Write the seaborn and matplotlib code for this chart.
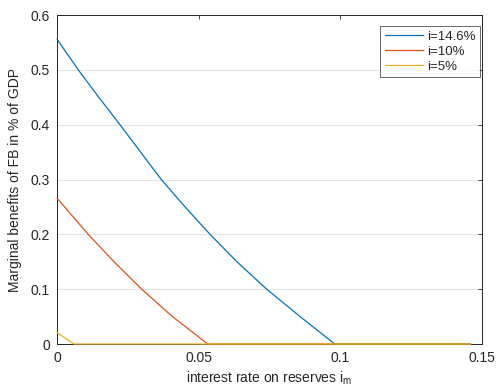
import matplotlib
matplotlib.use('Agg')
import matplotlib.pyplot as plt
import seaborn as sns
import pandas as pd

# values
x_high = [0.0, 0.0075, 0.0146, 0.0222, 0.0295, 0.0368, 0.0452, 0.054, 0.0635, 0.074, 0.0858, 0.098, 0.146]
y_high = [0.556, 0.5, 0.451, 0.4, 0.35, 0.3, 0.25, 0.2, 0.15, 0.1, 0.05, 0.0, 0.0]
x_mid = [0.0, 0.011, 0.0205, 0.0299, 0.0405, 0.0532, 0.146]
y_mid = [0.266, 0.2, 0.148, 0.1, 0.051, 0.0, 0.0]
x_low = [0.0, 0.006, 0.146]
y_low = [0.021, 0.0, 0.0]
labels = ['i=14.6%', 'i=10%', 'i=5%']
colors = ['#0072BD', '#D95319', '#EDB120']
x_ticks = [0, 0.05, 0.1, 0.15]
x_tick_labels = ['0', '0.05', '0.1', '0.15']
y_ticks = [0, 0.1, 0.2, 0.3, 0.4, 0.5, 0.6]
y_tick_labels = ['0', '0.1', '0.2', '0.3', '0.4', '0.5', '0.6']

sns.set_style('white')
plt.rcParams['font.family'] = ['Liberation Sans', 'DejaVu Sans']
plt.rcParams['mathtext.default'] = 'regular'

frames = []
for xs, ys, lab in zip([x_high, x_mid, x_low], [y_high, y_mid, y_low], labels):
    frames.append(pd.DataFrame({'x': xs, 'y': ys, 'series': lab}))
df = pd.concat(frames, ignore_index=True)

fig = plt.figure(figsize=(4.98, 3.92), dpi=100)
ax = fig.add_axes([0.1145, 0.1224, 0.8535, 0.8393])

sns.lineplot(data=df, x='x', y='y', hue='series', hue_order=labels,
             palette=colors, sort=False, estimator=None, linewidth=0.9, ax=ax)
# draw lines over the frame like MATLAB does
for i, line in enumerate(ax.get_lines()):
    line.set_clip_on(False)
    line.set_zorder(3 + i)

ax.set_xlim(0, 0.15)
ax.set_ylim(0, 0.6)
ax.set_xticks(x_ticks)
ax.set_xticklabels(x_tick_labels)
ax.set_yticks(y_ticks)
ax.set_yticklabels(y_tick_labels)
ax.yaxis.grid(True, color='#e3e3e3', linewidth=0.8)
ax.xaxis.grid(False)
ax.set_axisbelow(True)
ax.tick_params(direction='in', length=3, width=0.6, colors='#262626',
               labelsize=10, top=True, right=True, pad=5)
for s in ax.spines.values():
    s.set_color('#262626')
    s.set_linewidth(0.7)

ax.set_xlabel('interest rate on reserves i$_m$', fontsize=10, color='#262626', labelpad=3)
ax.set_ylabel('Marginal benefits of FB in % of GDP', fontsize=10, color='#262626', labelpad=6)

leg = ax.legend(loc='upper right', bbox_to_anchor=(0.995, 0.9666), borderaxespad=0,
                fontsize=9.5, frameon=True, fancybox=False, handlelength=2.9,
                handletextpad=0.3, labelspacing=0.2, borderpad=0.35)
leg.get_frame().set_edgecolor('#262626')
leg.get_frame().set_linewidth(0.6)
leg.set_zorder(10)

fig.savefig('out.png', dpi=100)
